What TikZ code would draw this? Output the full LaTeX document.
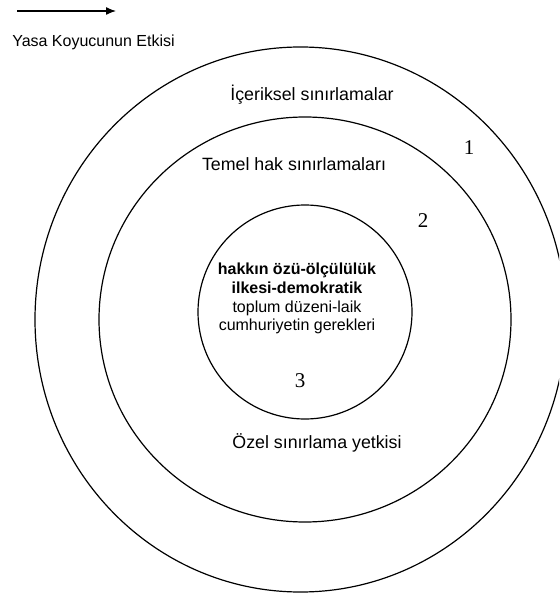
\documentclass[tikz,border=0pt]{standalone}
\usepackage{fontspec}
\setmainfont{Liberation Sans}
\newfontfamily\numfont{Liberation Serif}
\usetikzlibrary{arrows.meta}
\begin{document}
\begin{tikzpicture}[x=1pt,y=-1pt,
  ring/.style={line width=1.2pt},
  lbl/.style={font=\fontsize{17.8}{20}\selectfont, inner sep=0pt},
  numlbl/.style={font=\numfont\fontsize{21}{23}\selectfont, inner sep=0pt},
  core/.style={font=\fontsize{16}{18.9}\selectfont, align=center, inner sep=0pt}]
\useasboundingbox (0,0) rectangle (559,596);
\begin{scope}
\clip (0,0) rectangle (559,596);
\draw[ring] (300.5,319.5) ellipse [x radius=265.5, y radius=272.5];
\end{scope}
\draw[ring] (305,319.5) ellipse [x radius=206, y radius=202.5];
\draw[ring] (305,312) circle [radius=107];
% arrow and legend
\coordinate (arrS) at (17,11);
\coordinate (arrE) at (116,11);
\draw[line width=1.3pt, -{Latex[length=10pt,width=8pt]}] (arrS) -- (arrE);
\node[font=\fontsize{16}{18}\selectfont, inner sep=0pt] (legend) at (93.5,42) {Yasa Koyucunun Etkisi};
% ring labels
\node[lbl] (l1) at (312,95) {İçeriksel sınırlamalar};
\node[lbl] (l2) at (294,164) {Temel hak sınırlamaları};
\node[lbl] (l3) at (317,443) {Özel sınırlama yetkisi};
\node[numlbl] (n1) at (469,148) {1};
\node[numlbl] (n2) at (423,221) {2};
\node[numlbl] (n3) at (300,381) {3};
\node[core] (c) at (297,298.5) {\textbf{hakkın özü-ölçülülük}\\\textbf{ilkesi-demokratik}\\toplum düzeni-laik\\cumhuriyetin gerekleri};
\end{tikzpicture}
\end{document}
